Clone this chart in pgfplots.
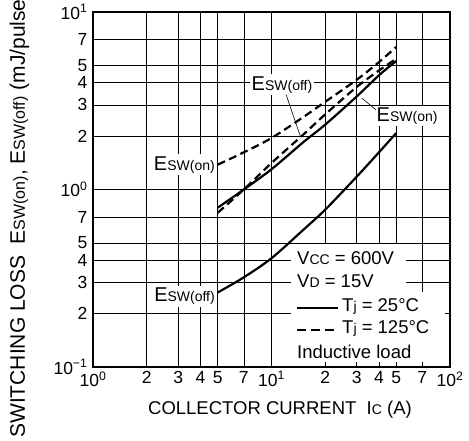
\documentclass[border=0pt]{standalone}
\usepackage{fontspec}
\setmainfont{Liberation Sans}
\usepackage{pgfplots}
\pgfplotsset{compat=1.18}

\newcommand\txt{\fontsize{18.5}{21}\selectfont}
\newcommand\sml{\fontsize{14}{16}\selectfont}
\newcommand\esw[1]{{\fontsize{20}{22}\selectfont E}{\sml SW(#1)}}

\begin{document}
\begin{tikzpicture}
\begin{axis}[
  scale only axis, width=357pt, height=355pt,
  xmode=log, ymode=log,
  xmin=1, xmax=100, ymin=0.1, ymax=10,
  xtick={1,2,3,4,5,7,10,20,30,40,50,70,100},
  xticklabels={10\textsuperscript{0},2,3,4,5,7,10\textsuperscript{1},2,3,4,5,7,10\textsuperscript{2}},
  ytick={0.1,0.2,0.3,0.4,0.5,0.7,1,2,3,4,5,7,10},
  yticklabels={10\textsuperscript{−1},2,3,4,5,7,10\textsuperscript{0},2,3,4,5,7,10\textsuperscript{1}},
  grid=major,
  major grid style={black, line width=0.6pt},
  tick align=inside, major tick length=5pt,
  tick style={black, line width=0.6pt},
  axis line style={line width=2.6pt},
  ticklabel style={font=\fontsize{17.5}{19}\selectfont},
  xticklabel style={yshift=-1pt},
  yticklabel style={xshift=-2pt},
]
% white area behind the conditions block
\fill[white] (axis cs:12.9,0.264) rectangle (axis cs:56.8,0.491);
\fill[white] (axis cs:12.9,0.1035) rectangle (axis cs:93.8,0.264);
\draw[line width=0.6pt] (axis cs:20,0.1) -- (axis cs:20,0.107);
\draw[line width=0.6pt] (axis cs:30,0.1) -- (axis cs:30,0.107);
\draw[line width=0.6pt] (axis cs:40,0.1) -- (axis cs:40,0.107);
\draw[line width=0.6pt] (axis cs:50,0.1) -- (axis cs:50,0.107);
\draw[line width=0.6pt] (axis cs:70,0.1) -- (axis cs:70,0.107);

% curve labels
\node[fill=white, inner sep=2pt, anchor=east] at (axis cs:4.95,1.38) {\esw{on}};
\node[fill=white, inner sep=2pt, anchor=east] at (axis cs:4.95,0.25) {\esw{off}};
\node[fill=white, inner sep=2pt] at (axis cs:11.45,3.89) {\esw{off}};
\node[fill=white, inner sep=2pt] at (axis cs:57.5,2.59) {\esw{on}};
\draw[line width=0.6pt] (axis cs:12.08,3.42) -- (axis cs:14.47,2.01);
\draw[line width=0.6pt] (axis cs:38.5,2.81) -- (axis cs:32.1,3.27);

% Esw(on), Tj = 125C
\addplot[line width=2.2pt, dash pattern=on 8pt off 4.5pt, smooth]
  coordinates {(5,1.38)(7,1.62)(10,1.95)(15,2.55)(20,3.12)(30,4.15)(40,5.22)(50,6.36)};
% Esw(off), Tj = 125C
\addplot[line width=2.2pt, dash pattern=on 8pt off 4.5pt, smooth]
  coordinates {(5,0.74)(7,1.0)(10,1.41)(15,2.03)(20,2.65)(30,3.78)(40,4.68)(50,5.45)};
% Esw(on), Tj = 25C
\addplot[line width=2.2pt, smooth]
  coordinates {(5,0.79)(7,1.0)(10,1.30)(15,1.84)(20,2.32)(30,3.34)(40,4.40)(50,5.30)};
% Esw(off), Tj = 25C
\addplot[line width=2.2pt, smooth]
  coordinates {(5,0.263)(7,0.32)(10,0.41)(15,0.59)(20,0.77)(30,1.18)(40,1.62)(50,2.08)};
\end{axis}

% conditions block
\node[anchor=base west, inner sep=0pt] at (204pt,102pt) {\txt V{\sml CC} = 600V};
\node[anchor=base west, inner sep=0pt] at (204pt,79pt) {\txt V{\sml D} = 15V};
\draw[line width=2.2pt] (204pt,58.7pt) -- (245pt,58.7pt);
\node[anchor=base west, inner sep=0pt] at (249pt,55pt) {\txt T{\sml j} = 25°C};
\draw[line width=2.2pt, dash pattern=on 9pt off 5pt] (204pt,37pt) -- (245pt,37pt);
\node[anchor=base west, inner sep=0pt] at (249pt,33pt) {\txt T{\sml j} = 125°C};
\node[anchor=base west, inner sep=0pt] at (204pt,8pt) {\txt Inductive load};

% axis titles
\node[anchor=base, inner sep=0pt] at (187pt,-48pt) {\txt COLLECTOR CURRENT\ \ I{\sml C} (A)};
\node[rotate=90, anchor=base west, inner sep=0pt] at (-68pt,-71pt)
  {\fontsize{21}{24}\selectfont SWITCHING LOSS\ \ E{\fontsize{16}{18}\selectfont SW(on)}, E{\fontsize{16}{18}\selectfont SW(off)} (mJ/pulse)};

\pgfresetboundingbox
\path[use as bounding box] (-93pt,-74pt) rectangle (376pt,367pt);
\end{tikzpicture}
\end{document}
